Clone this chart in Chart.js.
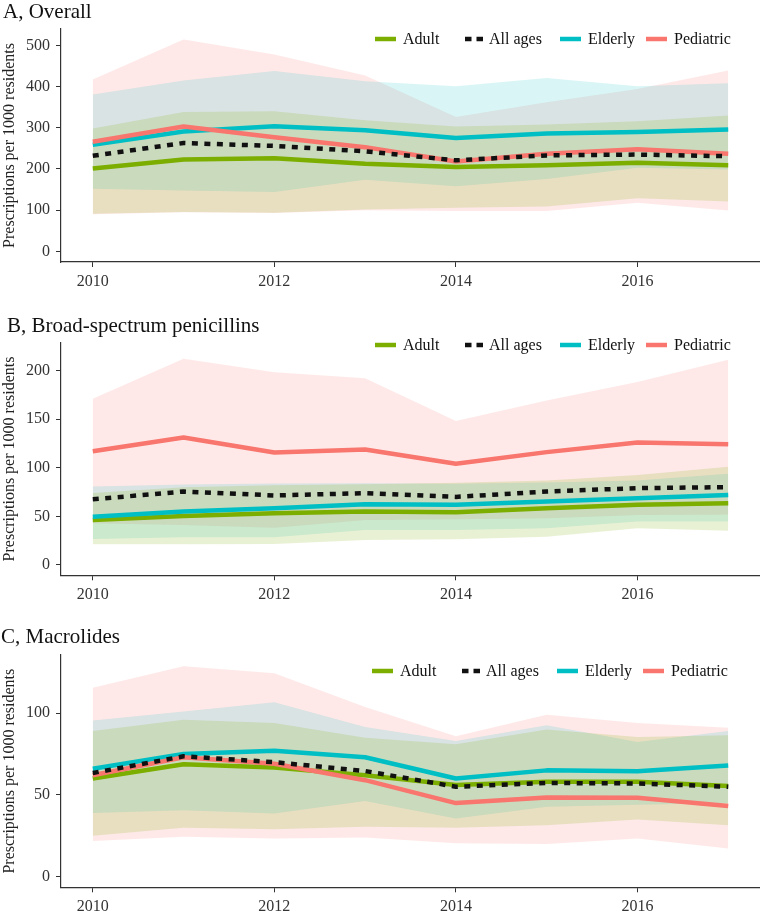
<!DOCTYPE html>
<html>
<head>
<meta charset="utf-8">
<script src="https://cdn.jsdelivr.net/npm/chart.js@4.4.1/dist/chart.umd.min.js"></script>
<style>
  body { margin: 0; background: #fff; }
  #wrap { position: relative; width: 760px; height: 918px; }
  canvas { position: absolute; left: 0; }
</style>
</head>
<body>
<div id="wrap">
  <canvas id="panelA" width="760" height="300" style="top:0px"></canvas>
  <canvas id="panelB" width="760" height="310" style="top:300px"></canvas>
  <canvas id="panelC" width="760" height="308" style="top:610px"></canvas>
</div>
<script>
const FONT = '"Liberation Serif", "DejaVu Serif", serif';

const years = [2010, 2011, 2012, 2013, 2014, 2015, 2016, 2017];
const xTicks = [2010, 2012, 2014, 2016];
const groups = ["Adult", "All ages", "Elderly", "Pediatric"];
const yTitle = "Prescriptions per 1000 residents";

// A, Overall
const adultA = [201, 223, 226, 213, 205, 209, 215, 209];
const allA = [232, 263, 256, 243, 221, 233, 235, 231];
const elderA = [259, 291, 304, 294, 275, 286, 290, 296];
const pedA = [266, 303, 277, 253, 218, 237, 248, 237];
const adultLoA = [91.5, 95.5, 94, 102, 106, 109, 129, 121];
const adultHiA = [298, 338, 340, 318, 303, 308, 316, 330];
const elderLoA = [152, 148, 144, 174, 158, 176, 203, 199];
const elderHiA = [381, 415, 438, 413, 401, 421, 401, 408];
const pedLoA = [90, 95, 93, 100, 98, 98, 118, 99];
const pedHiA = [417, 514, 478, 427, 326, 362, 394, 439];
const yTicksA = [0, 100, 200, 300, 400, 500];

// B, Broad-spectrum penicillins
const adultB = [46.3, 50.4, 53.2, 54.9, 54.2, 58.3, 61.8, 63.5];
const allB = [67.5, 75.5, 71.5, 73.8, 70, 75.5, 79, 80];
const elderB = [49.7, 54.9, 58.3, 62.5, 61.8, 65.2, 68.6, 72];
const pedB = [117, 131, 115.6, 118.7, 104, 116, 126, 124];
const adultLoB = [21.3, 21.3, 21.6, 25.7, 26.4, 29, 37.7, 35.3];
const adultHiB = [74, 80, 82, 83, 84.5, 86.8, 92.6, 101];
const elderLoB = [26.8, 28.5, 28.5, 36, 36, 37.7, 44.6, 44.6];
const elderHiB = [80.6, 82.7, 83.8, 84, 83.4, 84.7, 86.8, 93.7];
const pedLoB = [43, 41, 38.4, 46.3, 47, 48, 51.5, 52];
const pedHiB = [171, 212, 198, 192, 148, 169, 188, 211];
const yTicksB = [0, 50, 100, 150, 200];

// C, Macrolides
const adultC = [60, 68.7, 66.7, 62, 56, 58, 58, 55.5];
const allC = [63.4, 73.6, 70, 64.6, 55, 57.3, 57, 55];
const elderC = [66, 75, 77, 73, 60, 65, 64.5, 68];
const pedC = [62, 73, 69, 59, 45, 48.4, 48.2, 43.3];
const adultLoC = [25, 30, 29, 30.5, 30, 31.5, 35, 31.5];
const adultHiC = [89, 96, 94, 85, 81, 90, 85.4, 86.4];
const elderLoC = [39, 40.7, 38.6, 46.3, 35.6, 42.7, 44, 45];
const elderHiC = [95.5, 101, 106.7, 91.5, 83, 92.5, 82.3, 89];
const pedLoC = [21.8, 24.4, 23.4, 24, 20.4, 20, 23.4, 17.3];
const pedHiC = [115.5, 128.7, 124.4, 103.7, 85.8, 99, 94, 91];
const yTicksC = [0, 50, 100];

const lineColors = ["#7CAE00", "#111111", "#00BFC4", "#F8766D"];
const fillColors = ["rgba(124,174,0,0.17)", null, "rgba(0,191,196,0.15)", "rgba(248,118,109,0.16)"];

function pts(vals) {
  return years.map((yr, i) => ({ x: yr, y: vals[i] }));
}

function ribbon(lo, hi, color, order) {
  return [
    { data: pts(lo), borderColor: "transparent", borderWidth: 0, pointRadius: 0, fill: false, order: 30 },
    { data: pts(hi), borderColor: "transparent", borderWidth: 0, pointRadius: 0, fill: "-1", backgroundColor: color, order: order }
  ];
}

function line(vals, g, order) {
  return {
    label: groups[g], isLine: true, data: pts(vals),
    borderColor: lineColors[g], borderWidth: 4.5, pointRadius: 0, fill: false,
    borderDash: g === 1 ? [6, 6.5] : [], borderJoinStyle: "round", order: order
  };
}

// title + legend drawn inside the panel, like ggplot's inset legend
const panelDecor = {
  id: "panelDecor",
  afterDraw(chart, args, o) {
    const ctx = chart.ctx;
    ctx.save();
    ctx.fillStyle = "#111";
    ctx.textAlign = "left";
    ctx.textBaseline = "alphabetic";
    ctx.font = "21px " + FONT;
    ctx.fillText(o.title, o.titleX, o.titleY);
    ctx.font = "16px " + FONT;
    ctx.textBaseline = "middle";
    const items = chart.data.datasets.filter(d => d.isLine)
      .sort((a, b) => groups.indexOf(a.label) - groups.indexOf(b.label));
    items.forEach((ds, i) => {
      const x = o.legendX[i], y = o.legendY;
      const dashed = ds.borderDash.length > 0;
      ctx.beginPath();
      ctx.strokeStyle = ds.borderColor;
      ctx.lineWidth = 4.5;
      ctx.setLineDash(dashed ? [6.5, 5] : []);
      ctx.moveTo(x, y);
      ctx.lineTo(x + (dashed ? 18 : 21), y);
      ctx.stroke();
      ctx.setLineDash([]);
      ctx.fillText(ds.label, x + (dashed ? 24 : 28), y + 1);
    });
    ctx.restore();
  }
};

function makePanel(id, cfg) {
  // lower order is drawn later: pediatric ribbon at the bottom, adult ribbon on top
  const datasets = [
    line(cfg.all, 1, 1),
    line(cfg.ped, 3, 2),
    line(cfg.elder, 2, 3),
    line(cfg.adult, 0, 4),
    ...ribbon(cfg.adultLo, cfg.adultHi, fillColors[0], 10),
    ...ribbon(cfg.elderLo, cfg.elderHi, fillColors[2], 11),
    ...ribbon(cfg.pedLo, cfg.pedHi, fillColors[3], 12)
  ];
  const axisColor = "#333";
  return new Chart(document.getElementById(id), {
    type: "line",
    data: { datasets: datasets },
    plugins: [panelDecor],
    options: {
      responsive: false,
      animation: false,
      devicePixelRatio: 1,
      events: [],
      layout: { padding: { top: cfg.top, left: 0, right: 0, bottom: 0 } },
      plugins: {
        legend: { display: false },
        tooltip: { enabled: false },
        title: { display: false },
        panelDecor: {
          title: cfg.title, titleX: cfg.titleX, titleY: cfg.titleY,
          legendX: cfg.legendX, legendY: cfg.legendY
        }
      },
      elements: { line: { tension: 0 } },
      scales: {
        x: {
          type: "linear", min: 2009.65, max: 2017.35,
          afterBuildTicks: s => { s.ticks = xTicks.map(v => ({ value: v })); },
          afterFit: s => { s.height = cfg.xAxisH; },
          grid: { drawOnChartArea: false, drawTicks: true, tickLength: 5, color: axisColor, lineWidth: 1 },
          border: { color: axisColor, width: 1.2 },
          ticks: { font: { family: FONT, size: 16 }, color: "#333", padding: 5, maxRotation: 0, callback: v => String(v) }
        },
        y: {
          type: "linear", min: cfg.yMin, max: cfg.yMax,
          afterBuildTicks: s => { s.ticks = cfg.yTicks.map(v => ({ value: v })); },
          afterFit: s => { s.width = 61; },
          grid: { drawOnChartArea: false, drawTicks: true, tickLength: 5, color: axisColor, lineWidth: 1 },
          border: { color: axisColor, width: 1.2 },
          ticks: { font: { family: FONT, size: 16 }, color: "#333", padding: 6, callback: v => String(v) },
          title: { display: true, text: yTitle, color: "#222", font: { family: FONT, size: 16 }, padding: { top: 0, bottom: 0 } }
        }
      }
    }
  });
}

makePanel("panelA", {
  title: "A, Overall", titleX: 3, titleY: 18,
  adult: adultA, all: allA, elder: elderA, ped: pedA,
  adultLo: adultLoA, adultHi: adultHiA, elderLo: elderLoA, elderHi: elderHiA, pedLo: pedLoA, pedHi: pedHiA,
  yMin: -25.7, yMax: 539.7, yTicks: yTicksA,
  top: 29, xAxisH: 38, legendX: [375, 465, 560, 646], legendY: 39
});

makePanel("panelB", {
  title: "B, Broad-spectrum penicillins", titleX: 7, titleY: 32,
  adult: adultB, all: allB, elder: elderB, ped: pedB,
  adultLo: adultLoB, adultHi: adultHiB, elderLo: elderLoB, elderHi: elderHiB, pedLo: pedLoB, pedHi: pedHiB,
  yMin: -10.6, yMax: 228.5, yTicks: yTicksB,
  top: 42.7, xAxisH: 34.7, legendX: [375, 465, 560, 646], legendY: 45
});

makePanel("panelC", {
  title: "C, Macrolides", titleX: 1, titleY: 33,
  adult: adultC, all: allC, elder: elderC, ped: pedC,
  adultLo: adultLoC, adultHi: adultHiC, elderLo: elderLoC, elderHi: elderHiC, pedLo: pedLoC, pedHi: pedHiC,
  yMin: -6.45, yMax: 135.5, yTicks: yTicksC,
  top: 45, xAxisH: 30.7, legendX: [372, 462, 557, 643], legendY: 61
});
</script>
</body>
</html>
